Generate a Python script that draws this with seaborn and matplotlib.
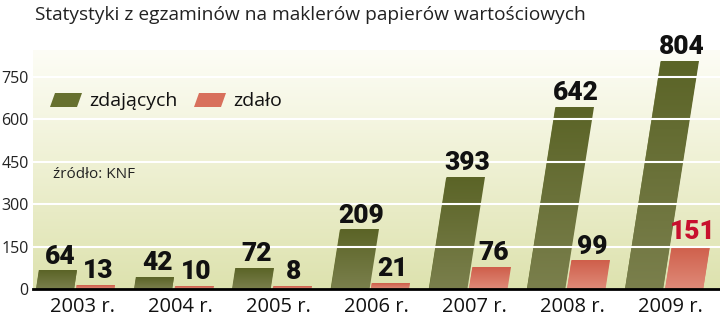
import numpy as np
import pandas as pd
import matplotlib
matplotlib.use("Agg")
import matplotlib.pyplot as plt
import seaborn as sns
from matplotlib.transforms import Affine2D
from matplotlib.patches import Polygon
from matplotlib.colors import LinearSegmentedColormap

years = ["2003 r.", "2004 r.", "2005 r.", "2006 r.", "2007 r.", "2008 r.", "2009 r."]
zdajacych = [64, 42, 72, 209, 393, 642, 804]
zdalo = [13, 10, 8, 21, 76, 99, 151]
series = ["zdających", "zdało"]
yticks = [0, 150, 300, 450, 600, 750]
title = "Statystyki z egzaminów na maklerów papierów wartościowych"
source = "źródło: KNF"

df = pd.DataFrame({
    "rok": years * 2,
    "seria": [series[0]] * len(years) + [series[1]] * len(years),
    "liczba": zdajacych + zdalo,
})

sns.set_theme(style="white")
plt.rcParams["font.family"] = ["Open Sans", "DejaVu Sans"]

GREEN = "#66702f"
RED = "#d8705c"
green_grad = LinearSegmentedColormap.from_list("g", ["#7a7f4c", "#5b6427"])
red_grad = LinearSegmentedColormap.from_list("r", ["#df8a78", "#cf5f4b"])

fig = plt.figure(figsize=(7.2, 3.23), dpi=100)
ax = fig.add_axes([33 / 720, 34 / 323, 687 / 720, 239 / 323])

# background gradient
grad = LinearSegmentedColormap.from_list("bg", ["#dde2ae", "#eef0d2", "#fdfdf6"])
ax.imshow(np.linspace(0, 1, 256).reshape(-1, 1), aspect="auto", cmap=grad,
          extent=[-0.5, 6.5, 0, 845], origin="lower", zorder=0)

sns.barplot(data=df, x="rok", y="liczba", hue="seria", palette=[GREEN, RED],
            width=0.82, gap=0.06, saturation=1, ax=ax, legend=False, zorder=3,
            linewidth=0)

k = 0.00045   # slant (x-units per value unit)
dx = -0.07    # shift of the slanted bars
shear = Affine2D.from_values(1, 0, k, 1, dx, 0)
vals_by_patch = zdajacych + zdalo
grads = [green_grad] * len(zdajacych) + [red_grad] * len(zdalo)
bars = list(ax.patches)
for p, v, cm in zip(bars, vals_by_patch, grads):
    p.set_transform(shear + ax.transData)
    im = ax.imshow(np.linspace(0, 1, 64).reshape(-1, 1), aspect="auto", cmap=cm,
                   extent=[p.get_x(), p.get_x() + p.get_width(), 0, v],
                   origin="lower", zorder=3.5, interpolation="bilinear")
    im.set_transform(shear + ax.transData)

ax.set_xlim(-0.5, 6.5)
ax.set_ylim(0, 845)

for p, v in zip(bars, vals_by_patch):
    cx = p.get_x() + p.get_width() / 2 + k * v + dx + 0.02
    color = "#c8102e" if v == 151 else "#111111"
    ax.text(cx, v + 26, str(v), ha="center", va="baseline", fontsize=19,
            fontweight="heavy", color=color, zorder=5,
            family=["Roboto", "DejaVu Sans"])

for t in yticks[1:]:
    ax.axhline(t, color="white", lw=1.5, zorder=4)

ax.set_yticks(yticks)
ax.set_yticklabels([str(t) for t in yticks], fontsize=11.5, color="#222222")
ax.tick_params(axis="y", length=0, pad=3)
ax.tick_params(axis="x", length=0, pad=6)
ax.set_xticks(range(len(years)))
ax.set_xticklabels(years, fontsize=14.5, color="#111111")
for s in ["top", "right", "left"]:
    ax.spines[s].set_visible(False)
ax.spines["bottom"].set_color("black")
ax.spines["bottom"].set_linewidth(2)
ax.spines["bottom"].set_zorder(6)
ax.set_xlabel("")
ax.set_ylabel("")

# legend
def para(x0, y0, w, h, s, color):
    return Polygon([[x0, y0], [x0 + w, y0], [x0 + w + s, y0 + h], [x0 + s, y0 + h]],
                   closed=True, facecolor=color, edgecolor="none",
                   transform=fig.transFigure, zorder=7)

fig.patches.append(para(50 / 720, 1 - 107 / 323, 27 / 720, 14 / 323, 5 / 720, GREEN))
fig.text(89 / 720, 1 - 101 / 323, series[0], fontsize=14, va="center", ha="left", color="#111111")
fig.patches.append(para(194 / 720, 1 - 107 / 323, 27 / 720, 14 / 323, 5 / 720, RED))
fig.text(233 / 720, 1 - 101 / 323, series[1], fontsize=14, va="center", ha="left", color="#111111")
fig.text(53 / 720, 1 - 174 / 323, source, fontsize=11, va="center", ha="left", color="#222222")

fig.text(35 / 720, 1 - 15 / 323, title, fontsize=13.8, va="center", ha="left", color="#222222")

fig.savefig("out.png", dpi=100, facecolor="white")
